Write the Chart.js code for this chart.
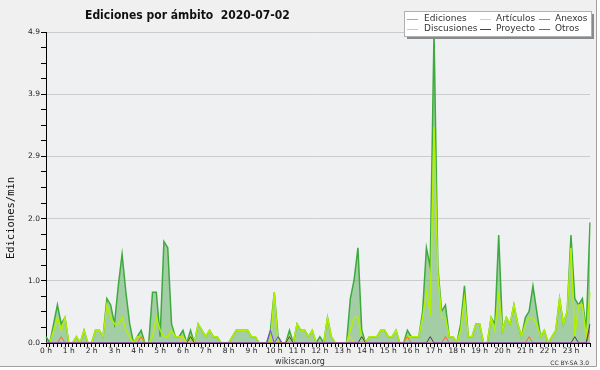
<!DOCTYPE html>
<html><head><meta charset="utf-8">
<script src="https://cdn.jsdelivr.net/npm/chart.js@4/dist/chart.umd.min.js"></script>
<style>html,body{margin:0;padding:0;background:#fff;}#wrap{width:600px;height:370px;}</style>
</head><body><div id="wrap"><canvas id="c" width="600" height="370"></canvas></div>
<script>
const titleText = "Ediciones por ámbito  2020-07-02";
const yTitle = "Ediciones/min";
const hourLabels = ["0 h","1 h","2 h","3 h","4 h","5 h","6 h","7 h","8 h","9 h","10 h","11 h","12 h","13 h","14 h","15 h","16 h","17 h","18 h","19 h","20 h","21 h","22 h","23 h"];
const yMax = 4.9;

const ediciones = [
0.1,0.0,0.3,0.6,0.3,0.4, 0.0,0.0,0.1,0.0,0.2,0.0, 0.0,0.2,0.2,0.1,0.7,0.6, 0.3,0.9,1.4,0.8,0.3,0.0,
0.1,0.2,0.0,0.0,0.8,0.8, 0.1,1.6,1.5,0.3,0.1,0.1, 0.2,0.0,0.2,0.0,0.3,0.2, 0.1,0.2,0.1,0.1,0.0,0.0,
0.0,0.1,0.2,0.2,0.2,0.2, 0.1,0.1,0.0,0.0,0.0,0.2, 0.8,0.1,0.0,0.0,0.2,0.0, 0.3,0.2,0.2,0.1,0.2,0.0,
0.1,0.0,0.4,0.1,0.0,0.0, 0.0,0.0,0.7,1.0,1.5,0.2, 0.0,0.1,0.1,0.1,0.2,0.2, 0.1,0.1,0.2,0.0,0.0,0.2,
0.1,0.1,0.1,0.5,1.5,1.2, 4.9,1.2,0.5,0.6,0.1,0.1, 0.0,0.3,0.9,0.1,0.1,0.3, 0.3,0.0,0.0,0.4,0.3,1.7,
0.2,0.4,0.3,0.6,0.3,0.1, 0.4,0.5,0.9,0.5,0.1,0.2, 0.0,0.1,0.2,0.7,0.3,0.5, 1.7,0.7,0.6,0.7,0.2,1.9
];
const articulos = [
0.0,0.0,0.2,0.4,0.2,0.4, 0.0,0.0,0.1,0.0,0.2,0.0, 0.0,0.2,0.2,0.1,0.6,0.4, 0.3,0.3,0.4,0.2,0.1,0.0,
0.1,0.1,0.0,0.0,0.1,0.4, 0.2,0.1,0.1,0.2,0.1,0.1, 0.1,0.0,0.1,0.0,0.3,0.2, 0.1,0.2,0.1,0.1,0.0,0.0,
0.0,0.1,0.2,0.2,0.2,0.2, 0.1,0.1,0.0,0.0,0.0,0.0, 0.8,0.0,0.0,0.0,0.1,0.0, 0.3,0.2,0.2,0.1,0.2,0.0,
0.0,0.0,0.4,0.1,0.0,0.0, 0.0,0.0,0.2,0.4,0.4,0.1, 0.0,0.1,0.1,0.1,0.2,0.2, 0.1,0.1,0.2,0.0,0.0,0.1,
0.1,0.1,0.1,0.4,0.8,0.5, 3.4,1.1,0.4,0.4,0.1,0.1, 0.0,0.2,0.7,0.1,0.1,0.3, 0.3,0.0,0.0,0.4,0.2,0.8,
0.2,0.4,0.3,0.6,0.3,0.1, 0.3,0.4,0.4,0.3,0.1,0.2, 0.0,0.1,0.2,0.7,0.3,0.5, 1.5,0.1,0.6,0.6,0.1,0.8
];
const anexos = [
0,0,0,0,0.1,0, 0,0,0,0,0,0, 0,0,0,0,0,0, 0,0,0,0,0,0,
0,0.1,0,0,0,0, 0,0,0,0,0,0, 0,0,0,0,0,0, 0,0,0,0,0,0,
0,0,0,0,0,0, 0,0,0,0,0,0, 0,0,0,0,0,0, 0,0,0,0,0,0,
0,0,0,0,0,0, 0,0,0,0,0,0, 0,0,0,0,0,0, 0,0,0,0,0,0.1,
0,0,0,0,0,0, 0,0,0,0.1,0,0, 0,0,0,0,0,0, 0,0,0,0,0,0,
0,0,0,0,0,0, 0,0.1,0,0,0,0, 0,0,0,0,0,0, 0,0,0,0,0,0.2
];
const discusiones = [
0,0,0,0,0,0, 0,0,0,0,0,0, 0,0,0,0,0,0, 0,0,0,0,0,0,
0,0,0,0,0,0, 0,0,0,0,0,0, 0.1,0,0,0,0,0, 0,0,0,0,0,0,
0,0,0,0,0,0, 0,0,0,0,0,0, 0,0,0,0,0,0, 0,0,0,0,0,0,
0,0,0,0,0,0, 0,0,0.1,0,0,0, 0,0,0,0,0,0, 0,0,0,0,0,0,
0,0,0,0,0,0, 0,0,0,0,0,0, 0,0,0,0,0,0, 0,0,0,0,0,0,
0,0,0,0,0,0, 0,0,0,0,0,0, 0,0,0,0,0,0, 0,0,0,0,0,0
];
const proyecto = [
0,0,0,0,0,0, 0,0,0,0,0,0, 0,0,0,0,0,0, 0,0,0,0,0,0,
0,0,0,0,0,0, 0,0,0,0,0,0, 0,0,0.1,0,0,0, 0,0,0,0,0,0,
0,0,0,0,0,0, 0,0,0,0,0,0, 0,0,0,0,0.1,0, 0,0,0,0,0,0,
0,0,0,0,0,0, 0,0,0,0,0,0.1, 0,0,0,0,0,0, 0,0,0,0,0,0,
0,0,0,0,0,0.1, 0,0,0,0,0,0, 0,0,0,0,0,0, 0,0,0,0,0,0,
0,0,0,0,0,0, 0,0,0,0,0,0, 0,0,0,0,0,0, 0,0.1,0,0,0,0.3
];
const otros = [
0,0,0,0,0,0, 0,0,0,0,0,0, 0,0,0,0,0,0, 0,0,0,0,0,0,
0,0,0,0,0,0, 0,0,0,0,0,0, 0,0,0,0,0,0, 0,0,0,0,0,0,
0,0,0,0,0,0, 0,0,0,0,0,0.2, 0,0.1,0,0,0,0, 0,0,0,0,0,0,
0,0,0,0,0,0, 0,0,0,0,0,0, 0,0,0,0,0,0, 0,0,0,0,0,0,
0,0,0,0,0,0, 0,0,0,0,0,0, 0,0,0,0,0,0, 0,0,0,0,0,0,
0,0,0,0,0,0, 0,0,0,0,0,0, 0,0,0,0,0,0, 0,0,0,0,0,0
];

const times = [];
for (let h = 0; h < 24; h++) for (let m = 0; m < 60; m += 10) times.push(h + ':' + String(m).padStart(2, '0'));
const yTickValues = [];
for (let k = 0; k <= 20; k++) yTickValues.push(+(k * yMax / 20).toFixed(4));

const decor = {
  id: 'decor',
  beforeDraw(chart) {
    const ctx = chart.ctx, a = chart.chartArea;
    ctx.save();
    ctx.fillStyle = '#ffffff'; ctx.fillRect(0, 0, 600, 370);
    ctx.fillStyle = '#f0f0f0'; ctx.fillRect(0, 0, 597, 366);
    ctx.strokeStyle = '#a0a0a0'; ctx.lineWidth = 1;
    ctx.beginPath(); ctx.moveTo(596.5, 0); ctx.lineTo(596.5, 366.5); ctx.lineTo(0, 366.5); ctx.stroke();
    ctx.fillStyle = '#eff0f2'; ctx.fillRect(a.left, a.top, a.right - a.left, a.bottom - a.top);
    ctx.restore();
  },
  afterDraw(chart) {
    const ctx = chart.ctx;
    ctx.save();
    ctx.fillStyle = '#111';
    ctx.font = 'bold 12px "DejaVu Sans Condensed", "DejaVu Sans"';
    ctx.textAlign = 'left'; ctx.textBaseline = 'alphabetic';
    ctx.fillText(titleText, 85, 18.5);
    // y title
    ctx.save();
    ctx.translate(11, 218); ctx.rotate(-Math.PI / 2);
    ctx.font = '10.5px "DejaVu Sans Mono"'; ctx.textAlign = 'center'; ctx.textBaseline = 'middle';
    ctx.fillStyle = '#111';
    ctx.fillText(yTitle, 0, 0);
    ctx.restore();
    ctx.fillStyle = '#333';
    ctx.font = '8px "DejaVu Sans"'; ctx.textAlign = 'center';
    ctx.fillText('wikiscan.org', 300, 364);
    ctx.font = '6px "DejaVu Sans"'; ctx.textAlign = 'right';
    ctx.fillText('CC BY-SA 3.0', 589, 364.5);
    // legend
    ctx.fillStyle = '#8a8a8a';
    ctx.fillRect(407, 36.5, 187, 2.5);
    ctx.fillRect(591.5, 14, 2.5, 25);
    ctx.fillStyle = '#ffffff';
    ctx.fillRect(404, 11, 188, 26);
    ctx.strokeStyle = '#b0b0b0'; ctx.lineWidth = 1;
    ctx.strokeRect(404.5, 11.5, 187, 25);
    const colX = [407, 480, 539], textX = [424, 496, 555], rowY = [19, 29];
    ctx.font = '9px "DejaVu Sans"'; ctx.textAlign = 'left'; ctx.textBaseline = 'middle';
    chart.data.datasets.forEach((ds, i) => {
      const c = i % 3, r = Math.floor(i / 3);
      ctx.strokeStyle = ds.legendColor || ds.borderColor; ctx.lineWidth = 1;
      ctx.beginPath(); ctx.moveTo(colX[c], rowY[r] + 0.5); ctx.lineTo(colX[c] + 11, rowY[r] + 0.5); ctx.stroke();
      ctx.fillStyle = '#333';
      ctx.fillText(ds.label, textX[c], rowY[r]);
    });
    ctx.restore();
  }
};

const tickFont = { family: 'DejaVu Sans', size: 7.5 };

new Chart(document.getElementById('c'), {
  type: 'line',
  data: {
    labels: times,
    datasets: [
      { label: 'Ediciones', data: ediciones, borderColor: '#3caa3c', legendColor: '#77cc77', backgroundColor: 'rgba(70,165,70,0.45)', fill: 'origin', borderWidth: 1.5, order: 5 },
      { label: 'Artículos', data: articulos, borderColor: '#b2f000', legendColor: '#c8f030', fill: false, borderWidth: 1.5, order: 4 },
      { label: 'Anexos', data: anexos, borderColor: '#ff6a2a', fill: false, borderWidth: 1, order: 3 },
      { label: 'Discusiones', data: discusiones, borderColor: '#ffcc22', fill: false, borderWidth: 1, order: 2 },
      { label: 'Proyecto', data: proyecto, borderColor: '#444444', fill: false, borderWidth: 1, order: 1 },
      { label: 'Otros', data: otros, borderColor: '#8a3cff', fill: false, borderWidth: 1, order: 0 }
    ]
  },
  options: {
    responsive: false,
    animation: false,
    devicePixelRatio: 1,
    layout: { padding: { top: 32, right: 10, left: 0, bottom: 0 } },
    elements: { point: { radius: 0 }, line: { tension: 0 } },
    plugins: { legend: { display: false }, tooltip: { enabled: false }, title: { display: false } },
    scales: {
      x: {
        type: 'category', offset: false, z: 1,
        grid: { drawOnChartArea: false, drawTicks: true, tickLength: 4, tickColor: '#000' },
        border: { color: '#000', width: 1 },
        ticks: { autoSkip: false, maxRotation: 0, minRotation: 0, padding: 0, font: tickFont, color: '#222',
          callback: (v, i) => (i % 6 === 0 ? hourLabels[i / 6] : '') },
        afterFit: (s) => { s.height = 27; }
      },
      y: {
        type: 'linear', min: 0, max: yMax,
        afterBuildTicks: (s) => { s.ticks = yTickValues.map(v => ({ value: v })); },
        grid: { color: (c) => (c.index % 4 === 0 ? '#cccccc' : 'rgba(0,0,0,0)'), tickColor: '#000', tickLength: 5, drawTicks: true },
        border: { color: '#000', width: 1 },
        ticks: { padding: 1, font: tickFont, color: '#222',
          callback: (v, i) => (i % 4 === 0 ? v.toFixed(1) : '') },
        afterFit: (s) => { s.width = 46; }
      }
    }
  },
  plugins: [decor]
});
</script>
</body></html>
